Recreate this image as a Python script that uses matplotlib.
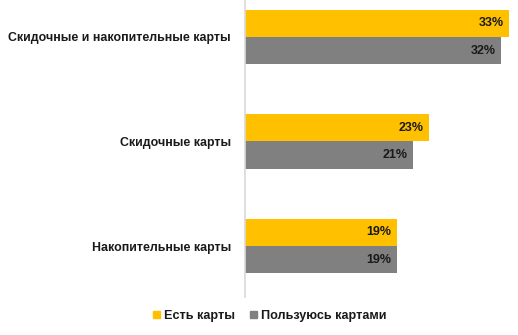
import numpy as np
import matplotlib
matplotlib.use("Agg")
import matplotlib.pyplot as plt
from matplotlib.patches import Patch

plt.rcParams["font.family"] = ["Liberation Sans", "DejaVu Sans"]

categories = ["Скидочные и накопительные карты", "Скидочные карты", "Накопительные карты"]
have_cards = [33, 23, 19]
use_cards = [32, 21, 19]
series_names = ["Есть карты", "Пользуюсь картами"]
colors = ["#FFC000", "#808080"]

fig = plt.figure(figsize=(5.18, 3.35), dpi=100)
ax = fig.add_axes([245 / 518, 1 - 297 / 335, 272 / 518, 297 / 335])

y = np.arange(len(categories))
h = 0.263
for vals, off, col in [(have_cards, -h / 2, colors[0]), (use_cards, h / 2, colors[1])]:
    ax.barh(y + off, vals, height=h, color=col)
    for yi, v in zip(y, vals):
        ax.annotate(f"{v}%", (v, yi + off), xytext=(-4, 0), textcoords="offset points",
                    ha="right", va="center", fontsize=9, fontweight="bold", color="#1a1a1a")

ax.set_xlim(0, 34)
ax.set_ylim(2.488, -0.354)
ax.set_yticks(y)
ax.set_yticklabels(categories, fontsize=8.9, fontweight="bold", color="#1a1a1a")
ax.tick_params(axis="y", length=0, pad=10)
ax.set_xticks([])
for s in ["top", "right", "bottom"]:
    ax.spines[s].set_visible(False)
ax.spines["left"].set_color("#D9D9D9")
ax.spines["left"].set_linewidth(1.2)

handles = [Patch(color=c, label=n) for c, n in zip(colors, series_names)]
leg = fig.legend(handles=handles, loc="center", bbox_to_anchor=(0.521, 0.057), ncol=2,
                 frameon=False, handlelength=0.55, handleheight=0.55, handletextpad=0.3,
                 columnspacing=1.2, prop={"size": 9.1, "weight": "bold"})
for t in leg.get_texts():
    t.set_color("#1a1a1a")

fig.savefig("out.png", dpi=100)
